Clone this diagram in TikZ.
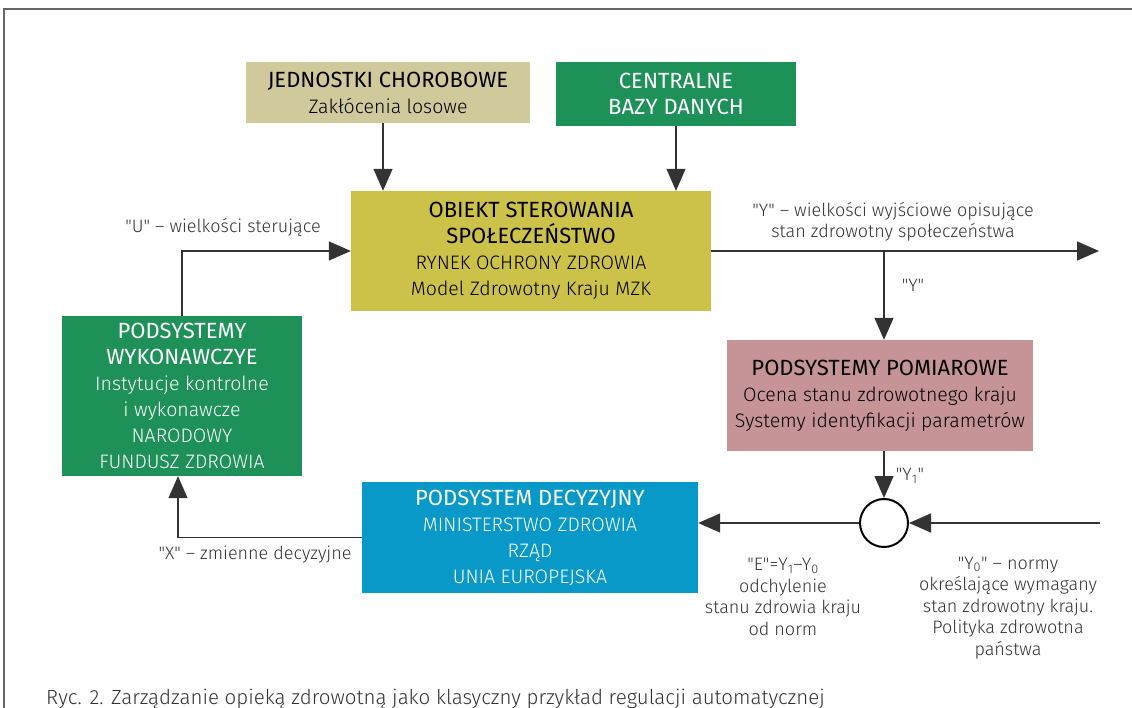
\documentclass[tikz,border=0pt]{standalone}
\usepackage{fontspec}
\setmainfont{Fira Sans Light}[BoldFont={Fira Sans}]
\usetikzlibrary{positioning,shapes,arrows.meta}

\definecolor{tan}{HTML}{CFC99C}
\definecolor{zielony}{HTML}{1E9159}
\definecolor{oliwka}{HTML}{CCC24A}
\definecolor{roz}{HTML}{C69396}
\definecolor{niebieski}{HTML}{0899C8}
\definecolor{tekst}{HTML}{333333}

\newcommand{\cyt}[1]{\textquotedbl#1\textquotedbl}
\newcommand{\nag}[1]{{\bfseries\fontsize{22}{26}\selectfont #1}}

\begin{document}
\begin{tikzpicture}[x=1pt,y=-1pt]
\tikzstyle{every node}=[inner sep=0pt,align=center,font=\fontsize{19.5}{26}\selectfont];
\tikzstyle{blok}=[shape=rectangle];
\tikzstyle{opis}=[text=tekst,font=\fontsize{18}{21.5}\selectfont];
\tikzstyle{strz}=[draw=black!80,line width=1.4pt,-{Triangle[length=22pt,width=19pt]}];

\useasboundingbox (0,0) rectangle (1132,708);
\draw[gray!80!black,line width=2.5pt] (4,708) -- (4,9) -- (1132,9);

% bloki
\node[blok,fill=tan,minimum width=284,minimum height=61] (jed) at (388,92.5)
  {\nag{JEDNOSTKI CHOROBOWE}\\Zakłócenia losowe};
\node[blok,fill=zielony,text=white,minimum width=240,minimum height=64] (baz) at (676,94)
  {\nag{CENTRALNE}\\\nag{BAZY DANYCH}};
\node[blok,fill=oliwka,minimum width=360,minimum height=120] (obj) at (531,251)
  {\nag{OBIEKT STEROWANIA}\\\nag{SPOŁECZEŃSTWO}\\RYNEK OCHRONY ZDROWIA\\Model Zdrowotny Kraju MZK};
\node[blok,fill=zielony,text=white,minimum width=240,minimum height=160] (wyk) at (182,396)
  {\nag{PODSYSTEMY}\\\nag{WYKONAWCZYE}\\Instytucje kontrolne\\i wykonawcze\\NARODOWY\\FUNDUSZ ZDROWIA};
\node[blok,fill=roz,minimum width=306,minimum height=111] (pom) at (880,395.5)
  {\nag{PODSYSTEMY POMIAROWE}\\Ocena stanu zdrowotnego kraju\\Systemy identyfikacji parametrów};
\node[blok,fill=niebieski,text=white,minimum width=336,minimum height=111] (dec) at (530,537.5)
  {\nag{PODSYSTEM DECYZYJNY}\\MINISTERSTWO ZDROWIA\\RZĄD\\UNIA EUROPEJSKA};
\node[draw=black,line width=2pt,shape=circle,minimum size=48,fill=white] (sum) at (884,523) {};

\coordinate (wyj) at (1099,251);
\coordinate (rozg) at (884,251);
\coordinate (norm) at (1100,523);

% polaczenia
\draw[strz] ([xshift=-5]jed.south) -- ([xshift=-5]jed.south |- obj.north);
\draw[strz] (baz.south) -- (baz.south |- obj.north);
\draw[strz] (wyk.north) |- (obj.west);
\draw[strz] (obj.east) -- (wyj);
\draw[strz] (rozg) -- (rozg |- pom.north);
\draw[strz] (pom.south -| sum) -- (sum.north);
\draw[strz] (norm) -- (sum.east);
\draw[strz] (sum.west) -- (sum.west -| dec.east);
\draw[strz] (dec.west) -| ([xshift=-4]wyk.south);

% opisy
\node[opis] (u) at (223,228) {\cyt{U} – wielkości sterujące};
\node[opis] (y) at (893,222) {\cyt{Y} – wielkości wyjściowe opisujące\\stan zdrowotny społeczeństwa};
\node[opis] (y2) at (913,285) {\cyt{Y}};
\node[opis] (y1) at (910,476) {\cyt{Y\textsubscript{1}}};
\node[opis] (x) at (255,555) {\cyt{X} – zmienne decyzyjne};
\node[opis] (e) at (783,597) {\cyt{E}=Y\textsubscript{1}–Y\textsubscript{0}\\odchylenie\\stanu zdrowia kraju\\od norm};
\node[opis] (y0) at (1008,608) {\cyt{Y\textsubscript{0}} – normy\\określające wymagany\\stan zdrowotny kraju.\\Polityka zdrowotna\\państwa};
\node[opis,anchor=base west,text=tekst,font=\fontsize{20.5}{24}\selectfont] (ryc) at (46,704)
  {Ryc. 2. Zarządzanie opieką zdrowotną jako klasyczny przykład regulacji automatycznej};
\end{tikzpicture}
\end{document}
